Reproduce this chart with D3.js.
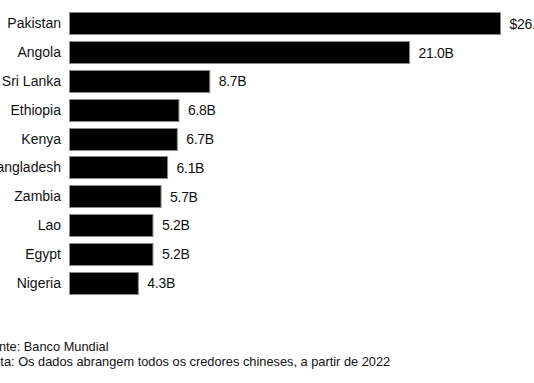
<!DOCTYPE html>
<html>
<head>
<meta charset="utf-8">
<script src="https://cdn.jsdelivr.net/npm/d3@7"></script>
<style>
  html, body { margin: 0; padding: 0; background: #fff; }
  svg { display: block; font-family: "Liberation Sans", Arial, sans-serif; }
</style>
</head>
<body>
<script>
const categories = ["Pakistan", "Angola", "Sri Lanka", "Ethiopia", "Kenya", "Bangladesh", "Zambia", "Lao", "Egypt", "Nigeria"];
const values = [26.6, 21.0, 8.7, 6.8, 6.7, 6.1, 5.7, 5.2, 5.2, 4.3];
const valueLabels = ["$26.6B", "21.0B", "8.7B", "6.8B", "6.7B", "6.1B", "5.7B", "5.2B", "5.2B", "4.3B"];
const footnotes = ["Fonte: Banco Mundial", "Nota: Os dados abrangem todos os credores chineses, a partir de 2022"];

const W = 534, H = 383;
const svg = d3.select("body").append("svg").attr("width", W).attr("height", H);

const data = categories.map((c, i) => ({ c, v: values[i], label: valueLabels[i] }));

const x = d3.scaleLinear().domain([0, 26.6]).range([69, 501]);
const y = d3.scaleBand().domain(categories).range([9.5, 297.5]).paddingInner(0.2).paddingOuter(0.1);

svg.append("g").selectAll("rect").data(data).join("rect")
  .attr("x", x(0) + 0.5)
  .attr("y", d => Math.round(y(d.c)) + 0.5)
  .attr("width", d => x(d.v) - x(0) - 1)
  .attr("height", Math.round(y.bandwidth()) - 1)
  .attr("fill", "#000")
  .attr("stroke", "#8a8a8a")
  .attr("stroke-width", 1);

const yAxis = d3.axisLeft(y).tickSize(0).tickPadding(8);
const gy = svg.append("g").attr("transform", `translate(${x(0)},0)`).call(yAxis);
gy.select(".domain").remove();
gy.selectAll("text")
  .attr("font-size", 14)
  .attr("font-family", "'Liberation Sans', Arial, sans-serif")
  .attr("fill", "#111");

svg.append("g").selectAll("text").data(data).join("text")
  .attr("x", d => x(d.v) + 8.5)
  .attr("y", d => y(d.c) + y.bandwidth() / 2)
  .attr("dy", "0.35em")
  .attr("font-size", 14)
  .attr("letter-spacing", "-0.3")
  .attr("fill", "#111")
  .text(d => d.label);

svg.append("g").selectAll("text").data(footnotes).join("text")
  .attr("x", -16)
  .attr("y", (d, i) => 351 + i * 14.5)
  .attr("font-size", 12.8)
  .attr("font-family", "Arial, 'Liberation Sans', sans-serif")
  .attr("fill", "#111")
  .text(d => d);
</script>
</body>
</html>
